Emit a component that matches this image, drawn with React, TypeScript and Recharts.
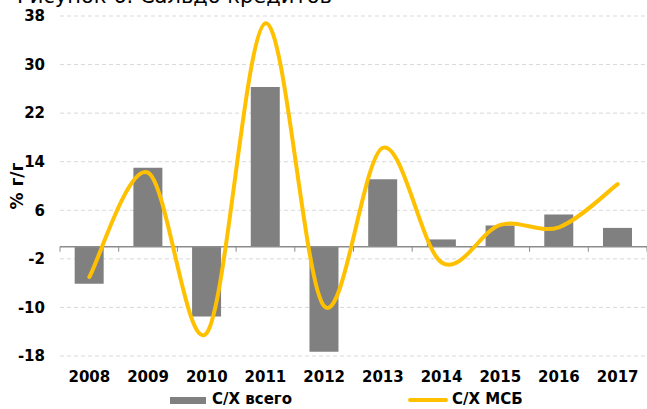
import React from "react";
import {
  ComposedChart,
  Bar,
  Line,
  XAxis,
  YAxis,
  CartesianGrid,
  ReferenceLine,
  Legend,
} from "recharts";

const years = ["2008", "2009", "2010", "2011", "2012", "2013", "2014", "2015", "2016", "2017"];
const totalValues = [-6.1, 13.0, -11.5, 26.3, -17.3, 11.1, 1.2, 3.5, 5.3, 3.1];
const smeValues = [-5.0, 12.2, -14.2, 36.8, -9.8, 16.3, -2.6, 3.6, 3.2, 10.3];
const yTicks = [-18, -10, -2, 6, 14, 22, 30, 38];

const data = years.map((year, i) => ({
  year,
  total: totalValues[i],
  sme: smeValues[i],
}));

const FONT = "'DejaVu Sans', Verdana, sans-serif";

// smoothed line like Excel (Catmull-Rom through the points)
const excelSmooth = (context: any) => {
  let pts: number[][] = [];
  return {
    areaStart() {},
    areaEnd() {},
    lineStart() {
      pts = [];
    },
    point(x: number, y: number) {
      pts.push([+x, +y]);
    },
    lineEnd() {
      if (!pts.length) return;
      context.moveTo(pts[0][0], pts[0][1]);
      for (let i = 0; i < pts.length - 1; i++) {
        const p0 = pts[i - 1] || pts[i];
        const p1 = pts[i];
        const p2 = pts[i + 1];
        const p3 = pts[i + 2] || pts[i + 1];
        context.bezierCurveTo(
          p1[0] + (p2[0] - p0[0]) / 6,
          p1[1] + (p2[1] - p0[1]) / 6,
          p2[0] - (p3[0] - p1[0]) / 6,
          p2[1] - (p3[1] - p1[1]) / 6,
          p2[0],
          p2[1]
        );
      }
    },
  };
};

const ZeroAxis = (props: any) => {
  const { x1, x2, y1 } = props;
  const step = (x2 - x1) / years.length;
  const ticks = [];
  for (let i = 0; i <= years.length; i++) {
    const x = x1 + i * step;
    ticks.push(<line key={i} x1={x} x2={x} y1={y1} y2={y1 + 5} stroke="#8c8c8c" strokeWidth={1} />);
  }
  return (
    <g>
      <line x1={x1} x2={x2} y1={y1} y2={y1} stroke="#8c8c8c" strokeWidth={1.5} />
      {ticks}
    </g>
  );
};

const LegendBox = () => (
  <div style={{ position: "relative", width: 647, height: 20, fontFamily: FONT, fontWeight: "bold", fontSize: 15 }}>
    <div style={{ position: "absolute", left: 170, top: 8, width: 36, height: 7, background: "#808080" }} />
    <div style={{ position: "absolute", left: 212, top: 1, lineHeight: "18px" }}>С/Х всего</div>
    <div style={{ position: "absolute", left: 408, top: 9, width: 40, height: 4, borderRadius: 2, background: "#FFC000" }} />
    <div style={{ position: "absolute", left: 452, top: 1, lineHeight: "18px" }}>С/Х МСБ</div>
  </div>
);

export default function App() {
  return (
    <div style={{ position: "absolute", left: 0, top: 0, width: 647, height: 409, background: "#fff" }}>
      <ComposedChart
        width={647}
        height={409}
        data={data}
        margin={{ top: 16, right: 0, bottom: 0, left: 0 }}
        barCategoryGap="25%"
      >
        <text x={17} y={3} fontFamily={FONT} fontSize={21} fill="#000">
          Рисунок 6. Сальдо кредитов
        </text>
        <CartesianGrid vertical={false} stroke="#d9d9d9" strokeDasharray="4 3" />
        <XAxis
          dataKey="year"
          height={33}
          axisLine={false}
          tickLine={false}
          tickMargin={9}
          interval={0}
          tick={{ fontFamily: FONT, fontSize: 15, fontWeight: "bold", fill: "#000" }}
        />
        <YAxis
          width={60}
          domain={[-18, 38]}
          ticks={yTicks}
          interval={0}
          axisLine={false}
          tickLine={false}
          tickSize={0}
          tickMargin={15}
          tick={{ fontFamily: FONT, fontSize: 15, fontWeight: "bold", fill: "#000" }}
          label={{
            value: "% г/г",
            angle: -90,
            position: "insideLeft",
            offset: 17,
            style: { fontFamily: FONT, fontSize: 17, fontWeight: "bold", fill: "#000", textAnchor: "middle" },
          }}
        />
        <Bar dataKey="total" fill="#808080" isAnimationActive={false} />
        <ReferenceLine y={0} shape={ZeroAxis} />
        <Line
          dataKey="sme"
          type={excelSmooth as any}
          stroke="#FFC000"
          strokeWidth={4}
          strokeLinecap="round"
          dot={false}
          activeDot={false}
          isAnimationActive={false}
        />
        <Legend
          height={20}
          content={LegendBox}
          wrapperStyle={{ left: 0, top: 389, width: 647, height: 20 }}
        />
      </ComposedChart>
    </div>
  );
}
